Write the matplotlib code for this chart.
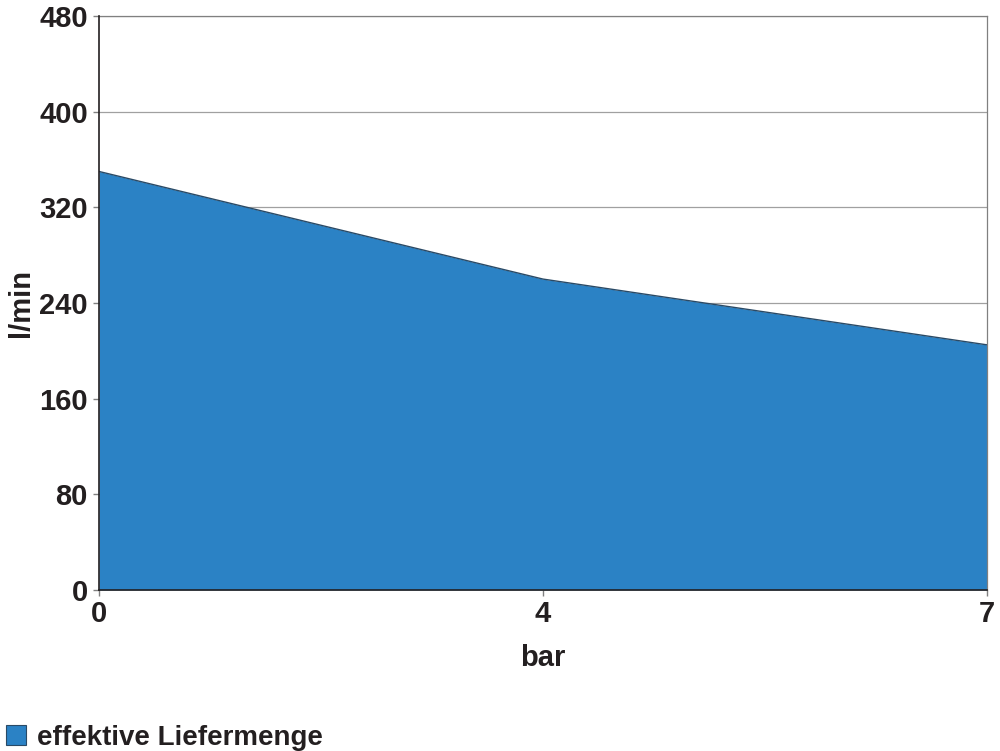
import matplotlib.pyplot as plt
from matplotlib.patches import Rectangle

plt.rcParams['font.family'] = ['Liberation Sans', 'DejaVu Sans']

# data
druck = ['0', '4', '7']
liefermenge = [350, 260, 205]
y_ticks = [0, 80, 160, 240, 320, 400, 480]
serie = 'effektive Liefermenge'

text_col = '#231f20'
fill_col = '#2b82c5'
W, H = 1000, 751

fig = plt.figure(figsize=(W / 100, H / 100), dpi=100)
ax = fig.add_axes([0.099, 0.2144, 0.888, 0.7643])

x = list(range(len(druck)))
ax.fill_between(x, liefermenge, 0, color=fill_col, zorder=2, linewidth=0)
ax.plot(x, liefermenge, color='#2a4a66', linewidth=1.0, zorder=3)

ax.set_xlim(0, len(druck) - 1)
ax.set_ylim(0, 480)
ax.set_xticks(x)
ax.set_xticklabels(druck)
ax.set_yticks(y_ticks)

ax.yaxis.grid(True, color='#a0a0a0', linewidth=0.9, zorder=0)
ax.set_axisbelow(True)

for side in ['top', 'right']:
    ax.spines[side].set_color('#808080')
    ax.spines[side].set_linewidth(0.9)
for side in ['left', 'bottom']:
    ax.spines[side].set_color(text_col)
    ax.spines[side].set_linewidth(1.2)
    ax.spines[side].set_zorder(4)

ax.tick_params(axis='both', length=4, width=1, color='#808080',
               labelsize=21, labelcolor=text_col)
ax.tick_params(axis='y', pad=4)
ax.tick_params(axis='x', pad=3)
for lab in ax.get_xticklabels() + ax.get_yticklabels():
    lab.set_fontweight('bold')

ax.set_xlabel('bar', fontsize=21, fontweight='bold', color=text_col, labelpad=12)
ax.set_ylabel('l/min', fontsize=21, fontweight='bold', color=text_col, labelpad=3)

# legend drawn by hand so it sits where the reference has it
fig.patches.append(Rectangle((6 / W, 1 - 745 / H), 20 / W, 20 / H,
                             transform=fig.transFigure, facecolor=fill_col,
                             edgecolor='#2a4a66', linewidth=0.8))
fig.text(37 / W, 1 - 745 / H, serie, fontsize=20, fontweight='bold',
         color=text_col, ha='left', va='baseline')

fig.savefig('out.png', dpi=100)
